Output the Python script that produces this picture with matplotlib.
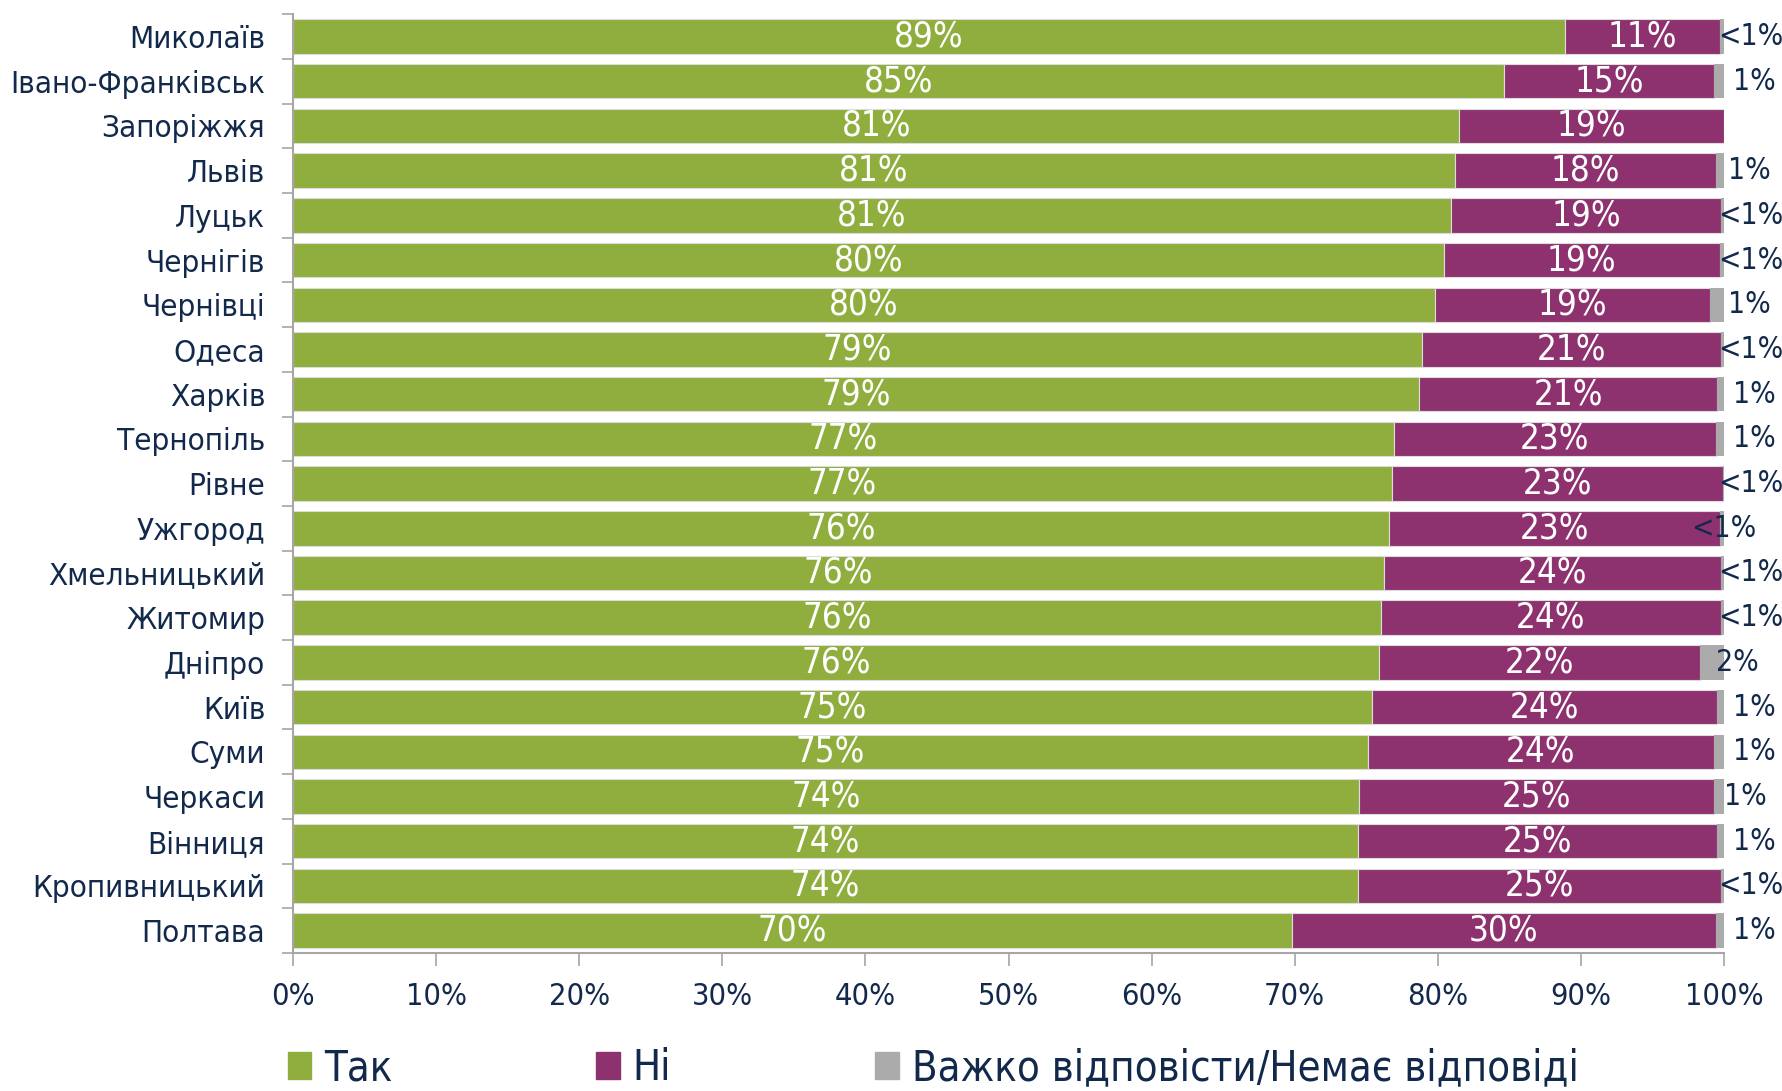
import numpy as np
import matplotlib.pyplot as plt
from matplotlib.patches import Patch

plt.rcParams['font.family'] = ['DejaVu Sans']
plt.rcParams['font.stretch'] = 'condensed'

# дані
cities = ['Миколаїв', 'Івано-Франківськ', 'Запоріжжя', 'Львів', 'Луцьк', 'Чернігів',
          'Чернівці', 'Одеса', 'Харків', 'Тернопіль', 'Рівне', 'Ужгород', 'Хмельницький',
          'Житомир', 'Дніпро', 'Київ', 'Суми', 'Черкаси', 'Вінниця', 'Кропивницький', 'Полтава']
tak = [88.9, 84.6, 81.5, 81.2, 80.9, 80.4, 79.8, 78.9, 78.7, 76.9, 76.8, 76.6, 76.2,
       76.0, 75.9, 75.4, 75.1, 74.5, 74.4, 74.4, 69.8]
ni = [10.8, 14.7, 18.5, 18.2, 18.9, 19.3, 19.2, 20.9, 20.8, 22.5, 23.1, 23.1, 23.6,
      23.8, 22.4, 24.1, 24.2, 24.8, 25.1, 25.4, 29.6]
vazhko = [0.3, 0.7, 0.0, 0.6, 0.2, 0.3, 1.0, 0.2, 0.5, 0.6, 0.1, 0.3, 0.2,
          0.2, 1.7, 0.5, 0.7, 0.7, 0.5, 0.2, 0.6]
tak_lbl = ['89%', '85%', '81%', '81%', '81%', '80%', '80%', '79%', '79%', '77%', '77%',
           '76%', '76%', '76%', '76%', '75%', '75%', '74%', '74%', '74%', '70%']
ni_lbl = ['11%', '15%', '19%', '18%', '19%', '19%', '19%', '21%', '21%', '23%', '23%',
          '23%', '24%', '24%', '22%', '24%', '24%', '25%', '25%', '25%', '30%']
vazhko_lbl = ['<1%', '1%', '', '1%', '<1%', '<1%', '1%', '<1%', '1%', '1%', '<1%',
              '<1%', '<1%', '<1%', '2%', '1%', '1%', '1%', '1%', '<1%', '1%']
# положення підпису третьої серії (в % шкали)
lbl_x = [99.6, 100.6, 100, 100.3, 99.6, 99.6, 100.3, 99.6, 100.6, 100.6, 99.6,
         97.7, 99.6, 99.6, 99.4, 100.6, 100.6, 100.0, 100.6, 99.6, 100.6]

green = '#8FAE3E'
purple = '#8E326F'
grey = '#ABABAB'
navy = '#12294B'

fig = plt.figure(figsize=(17.83, 10.91), dpi=100)
ax = fig.add_axes([0.1643, 0.1265, 0.8027, 0.8605])

y = np.arange(len(cities))
tak = np.array(tak)
ni = np.array(ni)
vazhko = np.array(vazhko)
h = 0.77
ax.barh(y, tak, height=h, color=green, edgecolor='#dcdcdc', linewidth=0.8)
ax.barh(y, ni, left=tak, height=h, color=purple, edgecolor='#dcdcdc', linewidth=0.8)
ax.barh(y, vazhko, left=tak + ni, height=h, color=grey, linewidth=0)

for i in range(len(cities)):
    ax.text(tak[i] / 2, y[i], tak_lbl[i], color='white', fontsize=25, ha='center', va='center')
    ax.text(tak[i] + ni[i] / 2, y[i], ni_lbl[i], color='white', fontsize=25, ha='center', va='center')
    if vazhko_lbl[i]:
        ax.text(lbl_x[i], y[i], vazhko_lbl[i], color=navy, fontsize=21.5, ha='left', va='center',
                clip_on=False)

ax.set_xlim(0, 100)
ax.set_ylim(len(cities) - 0.5, -0.5)
ax.set_yticks(y)
ax.set_yticklabels(cities, fontsize=22.5, color=navy)
ax.set_yticks(np.arange(-0.5, len(cities)), minor=True)
ax.tick_params(axis='y', which='major', length=0, pad=20)
ax.tick_params(axis='y', which='minor', length=8, color='#a6a6a6', width=1.2)
ax.set_xticks(np.arange(0, 101, 10))
ax.set_xticklabels([f'{v}%' for v in range(0, 101, 10)], fontsize=22, color=navy)
ax.tick_params(axis='x', length=9, color='#a6a6a6', width=1.2, pad=12)

for s in ['top', 'right']:
    ax.spines[s].set_visible(False)
for s in ['left', 'bottom']:
    ax.spines[s].set_color('#a6a6a6')
    ax.spines[s].set_linewidth(1.5)

handles = [Patch(color=green, label='Так'), Patch(color=purple, label='Ні'),
           Patch(color=grey, label='Важко відповісти/Немає відповіді')]
fig.legend(handles=handles, loc='center left', bbox_to_anchor=(0.152, 0.021), ncol=3,
           frameon=False, fontsize=30, labelcolor=navy, handlelength=0.57, handleheight=0.62,
           handletextpad=0.3, columnspacing=4.9, borderaxespad=0)

fig.savefig('out.png', dpi=100)
